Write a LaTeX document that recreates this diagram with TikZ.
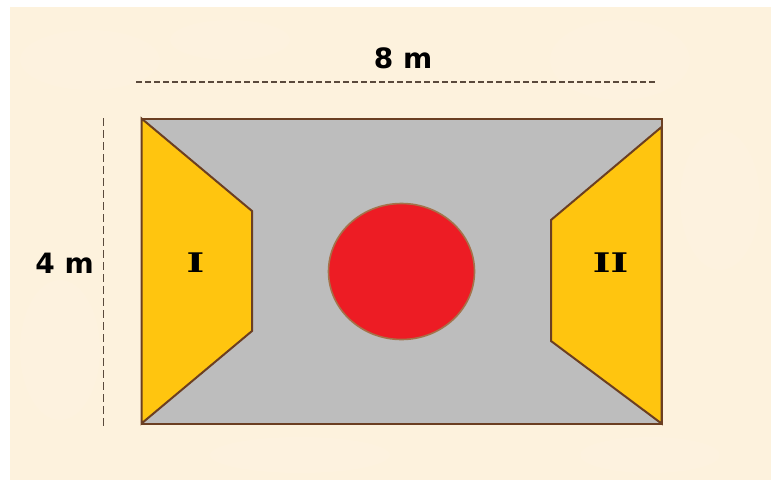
\documentclass[tikz,border=0pt]{standalone}
\usepackage{graphicx}
\usepackage{fontspec}
\setmainfont{DejaVu Sans}
\newfontfamily\romanlabel{DejaVu Serif}
\newcommand{\widelabel}[1]{\scalebox{1.4}[1]{#1}}
\definecolor{paper}{HTML}{FDF2DD}
\definecolor{plate}{HTML}{BDBDBD}
\definecolor{edge}{HTML}{6B3F22}
\definecolor{amber}{HTML}{FFC50F}
\definecolor{disc}{HTML}{ED1C24}
\definecolor{discedge}{HTML}{A5724A}
\definecolor{dimline}{HTML}{5A4A3C}
\tikzset{
  x=1pt,y=-1pt,
  plateshape/.style={fill=plate,draw=edge,line width=2pt,line join=miter},
  sideshape/.style={fill=amber,draw=edge,line width=2pt,line join=miter},
  discshape/.style={fill=disc,draw=discedge,line width=1.6pt},
  dimtop/.style={draw=dimline,line width=1.7pt,dash pattern=on 6pt off 3pt},
  dimleft/.style={draw=dimline,line width=1.7pt,dash pattern=on 8pt off 4pt},
  dimlabel/.style={font=\fontsize{28}{32}\selectfont\bfseries,text=black,inner sep=0pt},
  romlabel/.style={font=\romanlabel\fontsize{27}{31}\selectfont\bfseries,text=black,inner sep=0pt}
}
\begin{document}
\begin{tikzpicture}
\useasboundingbox (0,0) rectangle (771,480);
\fill[white] (0,0) rectangle (771,480);
\fill[paper] (10,7) rectangle (771,480);
\foreach \cx/\cy/\rx/\ry in {90/60/70/30,230/40/60/20,620/60/70/40,720/200/40/70,60/350/40/70,300/455/90/18,650/455/70/18}{
  \fill[white,opacity=.06] (\cx,\cy) ellipse [x radius=\rx,y radius=\ry];
}
\path[plateshape] (141.5,118.5) rectangle (661.5,423.5);
\coordinate (dimTopL) at (136,82);
\coordinate (dimTopR) at (657,82);
\coordinate (dimLeftT) at (103.5,118);
\coordinate (dimLeftB) at (103.5,426);
\path[sideshape] (141.5,118.5) -- (252,211) -- (252,331) -- (141.5,423.5) -- cycle;
\path[sideshape] (661.5,127) -- (551,220) -- (551,341) -- (661.5,423.5) -- cycle;
\path[discshape] (401.5,271.5) ellipse [x radius=73,y radius=68];
\path[dimtop] (dimTopL) -- (dimTopR);
\path[dimleft] (dimLeftT) -- (dimLeftB);
\node[dimlabel] (w) at (403,58) {8 m};
\node[dimlabel] (h) at (64.5,263) {4 m};
\node[romlabel] (one) at (195.5,263) {\widelabel{I}};
\node[romlabel] (two) at (610.5,263) {\widelabel{II}};
\end{tikzpicture}
\end{document}
